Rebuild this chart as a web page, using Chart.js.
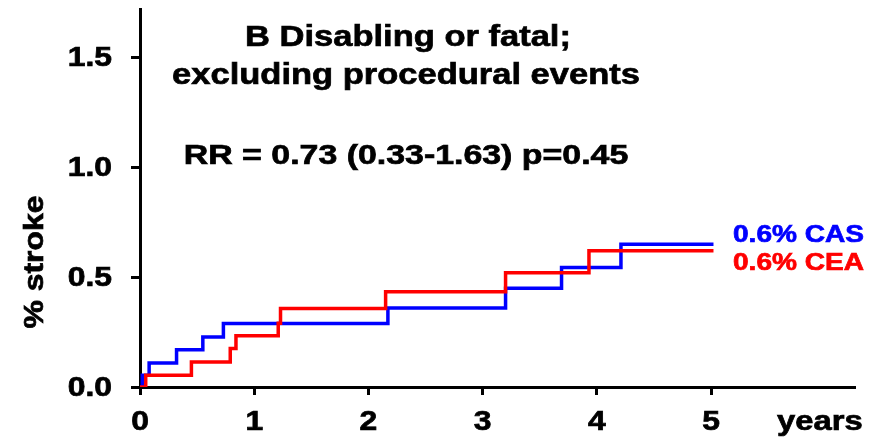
<!DOCTYPE html>
<html>
<head>
<meta charset="utf-8">
<script src="https://cdn.jsdelivr.net/npm/chart.js@4"></script>
<style>
  body { margin: 0; background: #fff; }
  #wrap { width: 883px; height: 438px; }
</style>
</head>
<body>
<div id="wrap"><canvas id="kmChart" width="883" height="438"></canvas></div>
<script>
// Kaplan-Meier style step data (years, % stroke)
const casTimes = [0, 0.02, 0.08, 0.32, 0.55, 0.73, 2.17, 3.20, 3.69, 4.21, 5.02];
const casRisk  = [0, 0.053, 0.109, 0.17, 0.228, 0.289, 0.36, 0.449, 0.544, 0.649, 0.649];
const ceaTimes = [0, 0.05, 0.45, 0.79, 0.84, 1.21, 1.23, 2.15, 3.20, 3.93, 5.02];
const ceaRisk  = [0, 0.053, 0.114, 0.175, 0.233, 0.29, 0.357, 0.433, 0.52, 0.62, 0.62];

const xTickValues = [0, 1, 2, 3, 4, 5];
const xTickLabels = ['0', '1', '2', '3', '4', '5'];
const yTickValues = [0, 0.5, 1.0, 1.5];
const yTickLabels = ['0.0', '0.5', '1.0', '1.5'];

const seriesLabels = ['0.6% CAS', '0.6% CEA'];
const titleLines = ['B Disabling or fatal;', 'excluding procedural events'];
const statsText = 'RR = 0.73 (0.33-1.63) p=0.45';

const FONT = '"Liberation Sans", Arial, sans-serif';

function toPoints(xs, ys) {
    return xs.map((x, i) => ({ x: x, y: ys[i] }));
}

// text is drawn a bit wider and heavier than normal, like the original figure
function wideText(ctx, text, x, y, size, sx, align, color, rot) {
    ctx.save();
    ctx.translate(x, y);
    if (rot) ctx.rotate(rot);
    ctx.scale(sx, 1);
    ctx.font = 'bold ' + size + 'px ' + FONT;
    ctx.textAlign = align;
    ctx.textBaseline = 'alphabetic';
    ctx.fillStyle = color;
    ctx.strokeStyle = color;
    ctx.lineWidth = 0.7;
    ctx.fillText(text, 0, 0);
    ctx.strokeText(text, 0, 0);
    ctx.restore();
}

const textPlugin = {
    id: 'textPlugin',
    afterDraw(chart) {
        const ctx = chart.ctx;
        const xs = chart.scales.x;
        const ys = chart.scales.y;
        // tick labels
        xTickValues.forEach((v, i) => {
            wideText(ctx, xTickLabels[i], xs.getPixelForValue(v), 430, 27, 1.18, 'center', '#000');
        });
        yTickValues.forEach((v, i) => {
            wideText(ctx, yTickLabels[i], 112, ys.getPixelForValue(v) + 9, 27, 1.18, 'right', '#000');
        });
        // axis titles
        wideText(ctx, 'years', 777, 430, 28, 1.17, 'left', '#000');
        wideText(ctx, '% stroke', 43, 262, 27, 1.18, 'center', '#000', -Math.PI / 2);
        // heading
        wideText(ctx, titleLines[0], 408, 46, 30, 1.15, 'center', '#000');
        wideText(ctx, titleLines[1], 406, 84, 30, 1.15, 'center', '#000');
        wideText(ctx, statsText, 406, 164, 28, 1.21, 'center', '#000');
        // end labels
        wideText(ctx, seriesLabels[0], 733, 242, 24, 1.17, 'left', '#0000ff');
        wideText(ctx, seriesLabels[1], 733, 270, 24, 1.17, 'left', '#ff0000');
    }
};

const ctx = document.getElementById('kmChart').getContext('2d');
const kmChart = new Chart(ctx, {
    type: 'line',
    data: {
        datasets: [
            {
                label: 'CEA',
                data: toPoints(ceaTimes, ceaRisk),
                borderColor: '#ff0000',
                borderWidth: 3.5,
                stepped: true,
                pointRadius: 0,
                fill: false
            },
            {
                label: 'CAS',
                data: toPoints(casTimes, casRisk),
                borderColor: '#0000ff',
                borderWidth: 3.5,
                stepped: true,
                pointRadius: 0,
                fill: false
            }
        ]
    },
    options: {
        responsive: false,
        animation: false,
        devicePixelRatio: 1,
        layout: { padding: { top: 9, right: 29, left: 0, bottom: 0 } },
        plugins: {
            legend: { display: false },
            tooltip: { enabled: false }
        },
        scales: {
            x: {
                type: 'linear',
                min: 0,
                max: 6.25,
                ticks: { display: false, stepSize: 1, includeBounds: false },
                afterBuildTicks: function(scale) {
                    scale.ticks = xTickValues.map(v => ({ value: v }));
                },
                afterFit: function(scale) { scale.height = 51; },
                grid: { drawOnChartArea: false, drawTicks: true, tickLength: 8, color: '#000', lineWidth: 3 },
                border: { display: true, color: '#000', width: 3 }
            },
            y: {
                type: 'linear',
                min: 0,
                max: 1.72,
                ticks: { display: false, stepSize: 0.5, includeBounds: false },
                afterBuildTicks: function(scale) {
                    scale.ticks = yTickValues.map(v => ({ value: v }));
                },
                afterFit: function(scale) { scale.width = 140; },
                grid: { drawOnChartArea: false, drawTicks: true, tickLength: 9, color: '#000', lineWidth: 3 },
                border: { display: true, color: '#000', width: 3 }
            }
        }
    },
    plugins: [textPlugin]
});
</script>
</body>
</html>
